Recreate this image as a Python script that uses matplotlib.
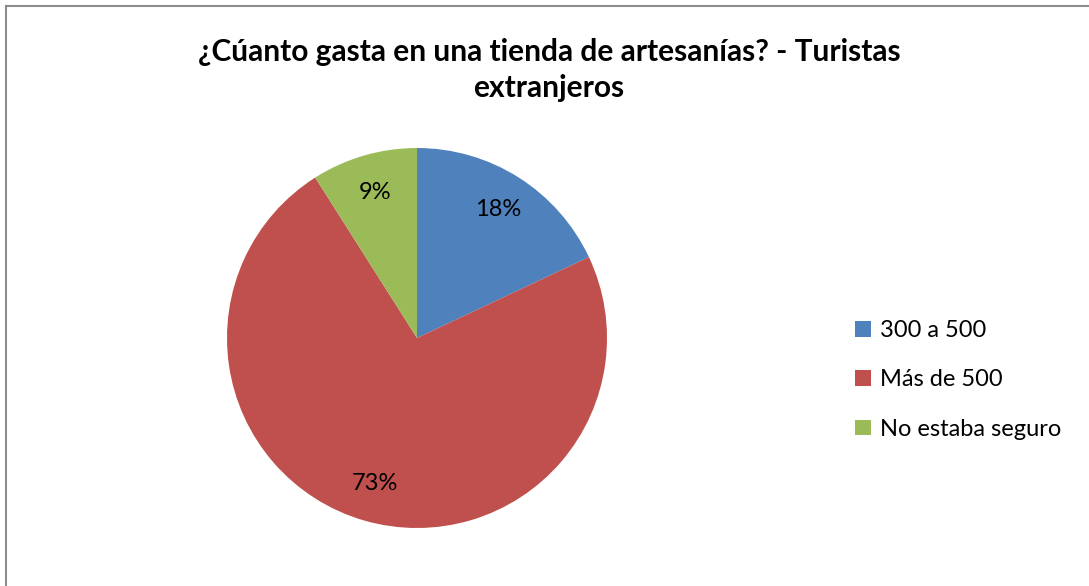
import matplotlib.pyplot as plt
from matplotlib.patches import Patch

categories = ["300 a 500", "Más de 500", "No estaba seguro"]
values = [18, 73, 9]
colors = ["#4F81BD", "#C0504D", "#9BBB59"]
title = "¿Cúanto gasta en una tienda de artesanías? - Turistas\nextranjeros"

W, H = 1089, 586
plt.rcParams['font.family'] = ['Lato', 'DejaVu Sans']

fig = plt.figure(figsize=(W / 100, H / 100), dpi=100)

# chart border (top and left visible)
fig.add_artist(plt.Line2D([6 / W, 6 / W], [0, 1 - 6 / H], color="#8c8c8c", lw=1.5))
fig.add_artist(plt.Line2D([6 / W, 1], [1 - 6 / H, 1 - 6 / H], color="#8c8c8c", lw=1.5))

# pie centre (417, 338), radius 190 px
cx, cy, r = 417, 338, 190
ax = fig.add_axes([(cx - r) / W, (H - cy - r) / H, 2 * r / W, 2 * r / H])
ax.pie(values, colors=colors, startangle=90, counterclock=False,
       autopct="%d%%", pctdistance=0.8, radius=1,
       textprops={"fontsize": 17, "color": "black"})
ax.set_xlim(-1, 1)
ax.set_ylim(-1, 1)
ax.set_aspect("equal")
ax.axis("off")

fig.text(549 / W, 1 - 70 / H, title, ha="center", va="center",
         fontsize=21.5, fontweight="bold", linespacing=1.38)

handles = [Patch(facecolor=c) for c in colors]
fig.legend(handles, categories, loc="center left",
           bbox_to_anchor=(834 / W, 1 - 380 / H), frameon=False,
           fontsize=17, handlelength=0.65, handleheight=0.65,
           handletextpad=0.4, labelspacing=1.2)

fig.savefig("out.png", dpi=100)
